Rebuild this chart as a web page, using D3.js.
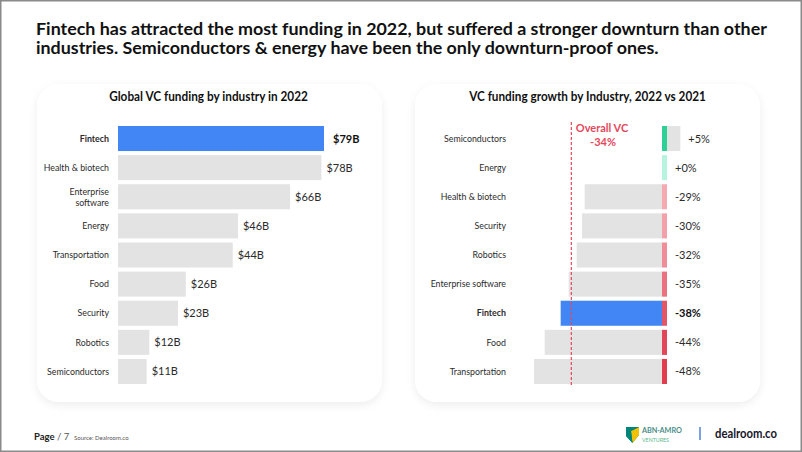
<!DOCTYPE html>
<html><head><meta charset="utf-8">
<script src="https://cdn.jsdelivr.net/npm/d3@7"></script>
<style>
html,body{margin:0;padding:0;background:#fff;}
svg{display:block;font-family:Lato,"Noto Sans",sans-serif;}
</style></head>
<body><svg id="c" width="802" height="452"></svg>
<script>
// ---- data ----
const fundCategories = ["Fintech","Health & biotech","Enterprise software","Energy","Transportation","Food","Security","Robotics","Semiconductors"];
const fundValues = [79,78,66,46,44,26,23,12,11];
const fundLabels = ["$79B","$78B","$66B","$46B","$44B","$26B","$23B","$12B","$11B"];

const growthCategories = ["Semiconductors","Energy","Health & biotech","Security","Robotics","Enterprise software","Fintech","Food","Transportation"];
const growthValues = [5,0,-29,-30,-32,-35,-38,-44,-48];
const growthLabels = ["+5%","+0%","-29%","-30%","-32%","-35%","-38%","-44%","-48%"];
const overallGrowth = -34;
const highlight = "Fintech";

const titleLines = ["Fintech has attracted the most funding in 2022, but suffered a stronger downturn than other",
                    "industries. Semiconductors & energy have been the only downturn-proof ones."];

const svg = d3.select("#c");
const BLUE = "#4285f4", GRAY = "#e3e3e3", TXT = "#2b2b2b", RED = "#e5485b";

function measure(str, size, weight){
  const t = svg.append("text").attr("font-size",size).attr("font-weight",weight).text(str);
  const w = t.node().getComputedTextLength(); t.remove(); return w;
}
function fitText(parent, str, x, y, target, nominal, weight, anchor){
  const w = measure(str, nominal, weight);
  const fs = nominal*target/w;
  const s = nominal/fs;
  return parent.append("text").attr("transform",`translate(${x},${y}) scale(1,${s})`)
    .attr("font-size",fs).attr("font-weight",weight).attr("text-anchor",anchor||"start").text(str);
}

// page frame
svg.append("rect").attr("x",0.75).attr("y",0.75).attr("width",800.5).attr("height",450.5)
  .attr("fill","#fff").attr("stroke","#8a8a8a").attr("stroke-width",1.5);

const defs = svg.append("defs");
const f = defs.append("filter").attr("id","sh").attr("x","-10%").attr("y","-10%").attr("width","120%").attr("height","125%");
f.append("feDropShadow").attr("dx",0).attr("dy",3).attr("stdDeviation",4).attr("flood-color","#000").attr("flood-opacity",0.07);

// title (one text, two lines)
{
  const nominal = 16.2;
  const w = measure(titleLines[0], nominal, 700);
  const fs = nominal*731/w, s = nominal/fs;
  const t = svg.append("text").attr("transform",`translate(36,35) scale(1,${s})`)
    .attr("font-size",fs).attr("font-weight",700).attr("fill","#111");
  t.append("tspan").attr("x",0).attr("y",0).text(titleLines[0]);
  t.append("tspan").attr("x",0).attr("y",19.5/s).text(titleLines[1]);
}

// cards
[[37,345],[415,345]].forEach(([x,w])=>{
  svg.append("rect").attr("x",x).attr("y",84).attr("width",w).attr("height",318).attr("rx",22)
    .attr("fill","#fff").attr("filter","url(#sh)");
});

const yL = d3.scaleBand().domain(fundCategories).range([126,384]).paddingInner(0.14);
const yR = d3.scaleBand().domain(growthCategories).range([126,384]).paddingInner(0.14);

// ---- left chart ----
fitText(svg,"Global VC funding by industry in 2022",208.5,101,199,12.5,700,"middle").attr("fill","#111");

const xL = d3.scaleLinear().domain([0,79]).range([118,324]);
const gl = svg.append("g");
gl.selectAll("rect.bar").data(fundCategories).join("rect").attr("class","bar")
  .attr("x",xL(0)).attr("y",d=>yL(d)).attr("height",yL.bandwidth())
  .attr("width",(d,i)=>xL(fundValues[i])-xL(0))
  .attr("fill",d=>d===highlight?BLUE:GRAY);

fundCategories.forEach((c,i)=>{
  const cy = yL(c)+yL.bandwidth()/2;
  const t = gl.append("text").attr("x",109).attr("text-anchor","end").attr("font-size",8.8)
    .attr("fill",TXT).attr("font-weight",c===highlight?700:400);
  if(c==="Enterprise software"){
    t.append("tspan").attr("x",109).attr("y",cy-2).text("Enterprise");
    t.append("tspan").attr("x",109).attr("y",cy+9).text("software");
  } else {
    t.attr("y",cy+3.2).text(c);
  }
  gl.append("text").attr("x",xL(fundValues[i])+(c===highlight?9:5)).attr("y",cy+4)
    .attr("font-size",11).attr("fill",c===highlight?"#111":TXT).attr("font-weight",c===highlight?700:400)
    .text(fundLabels[i]);
});

// ---- right chart ----
fitText(svg,"VC funding growth by Industry, 2022 vs 2021",587.5,101,237,12.5,700,"middle").attr("fill","#111");

const xR = d3.scaleLinear().domain([-48,0]).range([534,662]);
const k = xR(1)-xR(0);
const MW = 5;
const markColor = d3.scaleLinear().domain([-48,-38,-29,0,5])
  .range(["#e23c4f","#e35467","#f5aab2","#b6f4df","#2fcf98"]);
const gr = svg.append("g");

growthCategories.forEach((c,i)=>{
  const v = growthValues[i];
  const y0 = yR(c), h = yR.bandwidth(), cy = y0+h/2;
  if(v<0){
    gr.append("rect").attr("x",xR(v)).attr("y",y0).attr("width",xR(0)-xR(v)).attr("height",h)
      .attr("fill",c===highlight?BLUE:GRAY);
  } else if(v>0){
    gr.append("rect").attr("x",xR(0)+MW).attr("y",y0).attr("width",v*k).attr("height",h).attr("fill",GRAY);
  }
  gr.append("rect").attr("x",xR(0)).attr("y",y0).attr("width",MW).attr("height",h).attr("fill",markColor(v));
  gr.append("text").attr("x",506).attr("y",cy+3.2).attr("text-anchor","end").attr("font-size",8.8)
    .attr("fill",TXT).attr("font-weight",c===highlight?700:400).text(c);
  gr.append("text").attr("x",xR(0)+MW+Math.max(0,v)*k+8).attr("y",cy+4)
    .attr("font-size",11).attr("fill",c===highlight?"#111":TXT).attr("font-weight",c===highlight?700:400)
    .text(growthLabels[i]);
});

gr.append("line").attr("x1",xR(overallGrowth)).attr("x2",xR(overallGrowth)).attr("y1",122).attr("y2",386)
  .attr("stroke",RED).attr("stroke-width",1.2).attr("stroke-dasharray","3,2");
gr.append("text").attr("x",602).attr("y",132).attr("text-anchor","middle").attr("font-size",11)
  .attr("font-weight",700).attr("fill",RED).text("Overall VC");
gr.append("text").attr("x",603).attr("y",146).attr("text-anchor","middle").attr("font-size",11)
  .attr("font-weight",700).attr("fill",RED).text(overallGrowth+"%");

// ---- footer ----
const ft = svg.append("text").attr("x",34).attr("y",440).attr("font-size",9.5).attr("fill","#222");
ft.append("tspan").attr("font-weight",700).text("Page");
ft.append("tspan").attr("fill","#555").text(" / 7");
svg.append("text").attr("x",74).attr("y",440).attr("font-size",6).attr("fill","#555").text("Source: Dealroom.co");

const lg = svg.append("g").attr("transform","translate(626,427)");
lg.append("path").attr("d","M0,0 L13,0 L13,8 L6.5,16 L0,9 Z").attr("fill","#00857a");
lg.append("path").attr("d","M5,4 L13,0 L13,8 L6.5,16 Z").attr("fill","#f2c200");
lg.append("path").attr("d","M0,0 L13,0 L5,4 L6.5,16 L0,9 Z").attr("fill","#00857a");
fitText(svg,"ABN·AMRO",642,433,40,8,700).attr("fill","#4b8e8a");
fitText(svg,"VENTURES",642,442,27,6.5,400).attr("fill","#56b88a");
svg.append("line").attr("x1",700).attr("x2",700).attr("y1",427).attr("y2",440).attr("stroke","#4f82d8").attr("stroke-width",1.5);
fitText(svg,"dealroom.co",715,438,62,13.5,700).attr("fill","#16162a");
</script></body></html>
